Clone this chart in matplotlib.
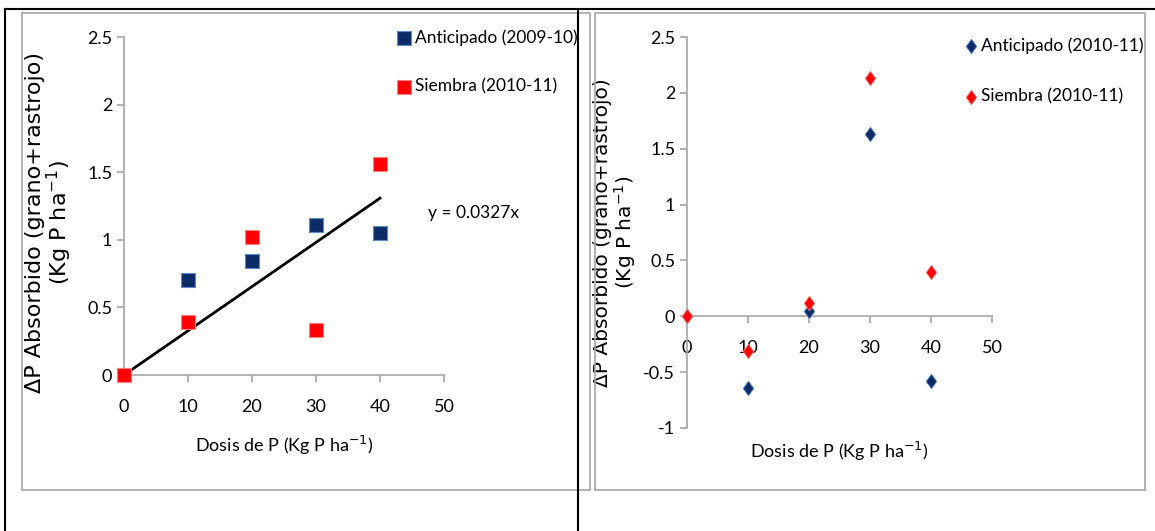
import matplotlib
matplotlib.use("Agg")
import matplotlib.pyplot as plt
from matplotlib.lines import Line2D
from matplotlib.patches import Rectangle
from matplotlib.path import Path

# data
dosis = [0, 10, 20, 30, 40]
antic_0910 = [0, 0.70, 0.84, 1.11, 1.05]
siembra_1011_a = [0, 0.39, 1.02, 0.33, 1.56]
antic_1011 = [0, -0.64, 0.05, 1.63, -0.58]
siembra_1011_b = [0, -0.31, 0.12, 2.13, 0.40]
pendiente = 0.0327

navy = "#0d2b66"
red = "#ff0000"
gray = "#a6a6a6"
narrow = ["Lato", "DejaVu Sans"]
ylab = "\u0394P Absorbido (grano+rastrojo)\n(Kg P ha$^{-1}$)"
xlab = "Dosis de P (Kg P ha$^{-1}$)"

# a slightly tall diamond like the Excel marker
rombo = Path([(0, 1), (0.72, 0), (0, -1), (-0.72, 0), (0, 1)],
             [Path.MOVETO, Path.LINETO, Path.LINETO, Path.LINETO, Path.CLOSEPOLY])

fig = plt.figure(figsize=(11.55, 5.31), dpi=100)
W, H = 1155, 531

def fx(px):
    return px / W

def fy(py):
    return 1 - py / H

# table borders and chart frames
for (x0, y0, x1, y1) in [(5, 9, 1155, 9), (5, 9, 5, 531), (578, 9, 578, 531)]:
    fig.add_artist(Line2D([fx(x0), fx(x1)], [fy(y0), fy(y1)], color="black", lw=1.5))
for (x0, y0, x1, y1) in [(22, 13, 590, 490), (595, 13, 1145, 490)]:
    fig.add_artist(Rectangle((fx(x0), fy(y1)), fx(x1 - x0), (y1 - y0) / H,
                             fill=False, edgecolor=gray, lw=1.2))

def style(ax):
    for s in ["top", "right"]:
        ax.spines[s].set_visible(False)
    for s in ["left", "bottom"]:
        ax.spines[s].set_color(gray)
        ax.spines[s].set_linewidth(1.2)
    ax.tick_params(colors=gray, length=5, width=1.2, labelcolor="black")
    for lab in ax.get_xticklabels() + ax.get_yticklabels():
        lab.set_family(narrow)
        lab.set_fontsize(13)
    ax.set_xlim(0, 50)

# left chart
ax1 = fig.add_axes([fx(124), fy(375), fx(444 - 124), (375 - 37) / H])
ax1.set_ylim(0, 2.5)
ax1.set_xticks([0, 10, 20, 30, 40, 50])
ax1.set_xticklabels([str(v) for v in [0, 10, 20, 30, 40, 50]])
ax1.set_yticks([0, 0.5, 1, 1.5, 2, 2.5])
ax1.set_yticklabels(["0", "0.5", "1", "1.5", "2", "2.5"])
ax1.tick_params(axis="x", pad=12)
style(ax1)
ax1.plot([0, 40], [0, pendiente * 40], color="black", lw=2, zorder=2)
ax1.scatter(dosis, antic_0910, marker="s", s=110, color=navy, edgecolors="#5b8bd0",
            linewidths=0.8, label="Anticipado (2009-10)", zorder=3)
ax1.scatter(dosis, siembra_1011_a, marker="s", s=110, color=red, edgecolors="#ff8080",
            linewidths=0.8, label="Siembra (2010-11)", zorder=3)
for c in ax1.collections:
    c.set_clip_on(False)
ax1.text(47.5, 1.2, "y = 0.0327x", family=narrow, fontsize=12.5, va="center")
ax1.set_xlabel(xlab, family=narrow, fontsize=13, labelpad=14)
ax1.set_ylabel(ylab, fontsize=16, linespacing=1.0)
ax1.yaxis.set_label_coords(-0.155, 0.45)
ax1.legend(loc="upper left", bbox_to_anchor=(0.80, 1.07), frameon=False,
           prop={"family": narrow, "size": 12.5}, handletextpad=0.1,
           labelspacing=1.9, handlelength=1.0)

# right chart
ax2 = fig.add_axes([fx(687), fy(428), fx(992 - 687), (428 - 37) / H])
ax2.set_ylim(-1, 2.5)
ax2.set_xticks([0, 10, 20, 30, 40, 50])
ax2.set_xticklabels([str(v) for v in [0, 10, 20, 30, 40, 50]])
ax2.set_yticks([-1, -0.5, 0, 0.5, 1, 1.5, 2, 2.5])
ax2.set_yticklabels(["-1", "-0.5", "0", "0.5", "1", "1.5", "2", "2.5"])
ax2.spines["bottom"].set_position(("data", 0))
ax2.tick_params(axis="x", pad=12)
style(ax2)
ax2.scatter(dosis, antic_1011, marker=rombo, s=110, color=navy, edgecolors="#5b8bd0",
            linewidths=0.6, label="Anticipado (2010-11)", zorder=3)
ax2.scatter(dosis, siembra_1011_b, marker=rombo, s=110, color=red, edgecolors="#ff8080",
            linewidths=0.6, label="Siembra (2010-11)", zorder=4)
for c in ax2.collections:
    c.set_clip_on(False)
ax2.set_xlabel(xlab, family=narrow, fontsize=13)
ax2.xaxis.set_label_coords(0.5, -0.03)
ax2.set_ylabel(ylab, fontsize=14.5, linespacing=1.0)
ax2.yaxis.set_label_coords(-0.16, 0.5)
ax2.legend(loc="upper left", bbox_to_anchor=(0.85, 1.04), frameon=False,
           prop={"family": narrow, "size": 12.5}, handletextpad=0.1,
           labelspacing=2.0, handlelength=1.0)

fig.savefig("out.png", dpi=100)
